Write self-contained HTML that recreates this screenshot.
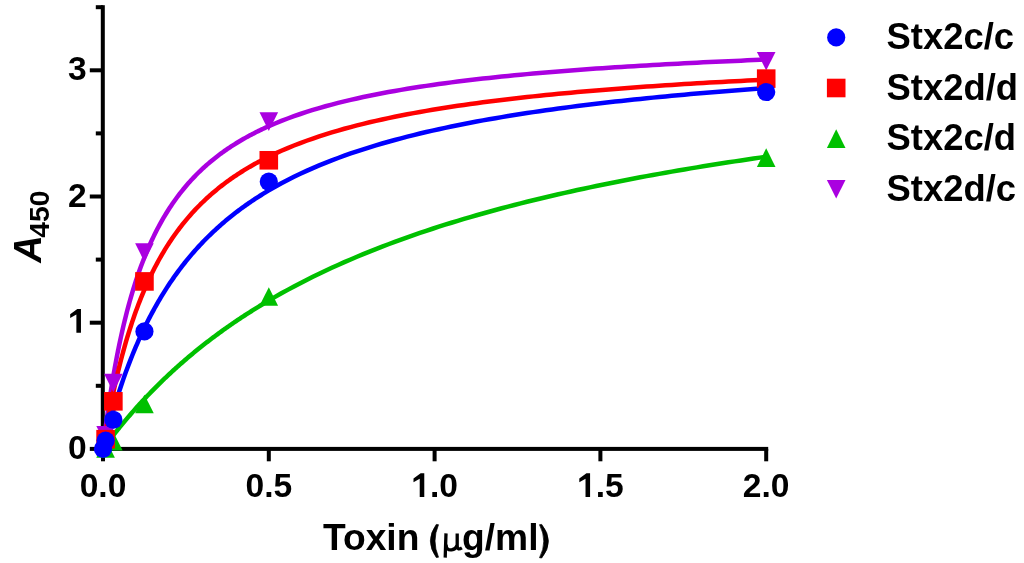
<!DOCTYPE html>
<html><head><meta charset="utf-8"><style>
html,body{margin:0;padding:0;background:#fff;}
svg{display:block;filter:blur(0.45px);}
text{font-family:"Liberation Sans",sans-serif;font-weight:bold;fill:#000;}
</style></head><body>
<svg width="1024" height="563" viewBox="0 0 1024 563">
<rect x="100.8" y="5.2" width="4" height="445.70" fill="#000"/>
<rect x="100.8" y="446.90" width="667.40" height="4" fill="#000"/>
<rect x="101.00" y="448.90" width="4" height="12.40" fill="#000"/>
<rect x="266.80" y="448.90" width="4" height="12.40" fill="#000"/>
<rect x="432.60" y="448.90" width="4" height="12.40" fill="#000"/>
<rect x="598.40" y="448.90" width="4" height="12.40" fill="#000"/>
<rect x="764.20" y="448.90" width="4" height="12.40" fill="#000"/>
<rect x="89.8" y="446.90" width="13.00" height="4" fill="#000"/>
<rect x="89.8" y="320.70" width="13.00" height="4" fill="#000"/>
<rect x="89.8" y="194.50" width="13.00" height="4" fill="#000"/>
<rect x="89.8" y="68.30" width="13.00" height="4" fill="#000"/>
<rect x="95.8" y="383.80" width="7.00" height="4" fill="#000"/>
<rect x="95.8" y="257.60" width="7.00" height="4" fill="#000"/>
<rect x="95.8" y="131.40" width="7.00" height="4" fill="#000"/>
<rect x="95.8" y="5.20" width="7.00" height="4" fill="#000"/>
<text x="86.6" y="458.90" text-anchor="end" font-size="33.6">0</text>
<text x="86.6" y="206.50" text-anchor="end" font-size="33.6">2</text>
<text x="86.6" y="80.30" text-anchor="end" font-size="33.6">3</text>
<path d="M80.96 332.70 L80.96 308.98 L77.33 308.98 L70.17 314.29 L70.17 317.98 L76.39 314.39 L76.39 332.70Z" fill="#000"/>
<text x="103.00" y="497" text-anchor="middle" font-size="33.6">0.0</text>
<text x="268.80" y="497" text-anchor="middle" font-size="33.6">0.5</text>
<text x="766.20" y="497" text-anchor="middle" font-size="33.6">2.0</text>
<path d="M424.28 497.00 L424.28 473.28 L420.66 473.28 L413.50 478.59 L413.50 482.28 L419.72 478.69 L419.72 497.00Z" fill="#000"/>
<text x="429.93" y="497" font-size="33.6">.0</text>
<path d="M590.08 497.00 L590.08 473.28 L586.46 473.28 L579.30 478.59 L579.30 482.28 L585.52 478.69 L585.52 497.00Z" fill="#000"/>
<text x="595.73" y="497" font-size="33.6">.5</text>
<text x="323" y="550.3" font-size="37.2">Toxin</text>
<text x="462.06" y="550.3" font-size="37.2">g/ml</text>
<g fill="#000" stroke="#000" stroke-width="0.7" stroke-linejoin="round"><path d="M436.3 524.4Q424.4 540.9 436.3 557.5L438.5 557.2Q431.5 540.9 438.5 524.7Z"/><path d="M541.7 524.4Q555.2 541.2 541.7 558.0L539.5 557.7Q548.1 541.2 539.5 524.7Z"/></g>
<g fill="none" stroke="#000" stroke-width="3.3"><path d="M446.0 533.4L445.2 557.6"/><path d="M457.2 533.4L457.2 546.5Q457.4 550.6 461.9 547.8"/><path d="M446.0 544.5Q446.4 550.6 451.6 549.9Q455.6 549.4 457.2 545.5"/></g>
<text transform="translate(41.2,262.7) rotate(-90)" font-size="38"><tspan font-style="italic">A</tspan><tspan font-size="28.3" dy="7.3" dx="-2.4">450</tspan></text>
<path d="M103.00 448.90 L103.28 446.52 L103.56 444.16 L103.84 441.83 L104.12 439.53 L104.41 437.25 L104.69 434.99 L104.97 432.77 L105.25 430.56 L105.53 428.38 L105.81 426.23 L106.09 424.09 L106.37 421.98 L106.65 419.90 L106.93 417.83 L107.22 415.79 L107.50 413.77 L107.78 411.77 L108.06 409.79 L108.34 407.83 L108.62 405.89 L108.90 403.97 L109.18 402.07 L109.46 400.19 L109.74 398.32 L110.03 396.48 L110.31 394.66 L110.59 392.85 L110.87 391.06 L111.15 389.29 L111.43 387.54 L111.71 385.80 L111.99 384.08 L112.27 382.38 L112.55 380.69 L112.84 379.02 L113.12 377.36 L113.40 375.72 L113.68 374.10 L113.96 372.49 L114.24 370.90 L114.52 369.32 L114.80 367.75 L115.08 366.20 L115.36 364.67 L115.65 363.15 L115.93 361.64 L116.21 360.14 L116.49 358.66 L116.77 357.20 L117.05 355.74 L117.33 354.30 L117.61 352.87 L117.89 351.46 L118.17 350.05 L118.46 348.66 L118.74 347.28 L119.02 345.91 L119.30 344.56 L119.58 343.21 L120.83 337.35 L122.09 331.71 L123.34 326.27 L124.60 321.02 L125.85 315.95 L127.10 311.06 L128.36 306.34 L129.61 301.77 L130.87 297.35 L132.12 293.07 L133.37 288.93 L134.63 284.91 L135.88 281.02 L137.14 277.25 L138.39 273.59 L139.64 270.03 L140.90 266.58 L142.15 263.23 L143.41 259.97 L144.66 256.80 L145.91 253.72 L147.17 250.72 L148.42 247.80 L149.67 244.95 L150.93 242.18 L152.18 239.48 L153.44 236.85 L154.69 234.29 L155.94 231.78 L157.20 229.34 L158.45 226.96 L159.71 224.63 L160.96 222.36 L162.21 220.14 L163.47 217.97 L164.72 215.85 L165.98 213.78 L167.23 211.75 L168.48 209.77 L169.74 207.83 L170.99 205.94 L172.25 204.08 L173.50 202.26 L174.75 200.48 L176.01 198.74 L177.26 197.03 L178.52 195.35 L179.77 193.71 L181.02 192.11 L182.28 190.53 L183.53 188.98 L184.79 187.47 L186.04 185.98 L187.29 184.52 L188.55 183.09 L189.80 181.68 L191.06 180.30 L192.31 178.94 L193.56 177.61 L194.82 176.31 L196.07 175.02 L197.32 173.76 L198.58 172.52 L199.83 171.30 L201.09 170.10 L202.34 168.93 L203.59 167.77 L204.85 166.63 L206.10 165.51 L207.36 164.41 L208.61 163.33 L209.86 162.26 L211.12 161.21 L212.37 160.18 L213.63 159.16 L214.88 158.16 L216.13 157.18 L217.39 156.21 L218.64 155.25 L219.90 154.31 L221.15 153.38 L222.40 152.47 L223.66 151.57 L224.91 150.69 L226.17 149.81 L227.42 148.95 L228.67 148.10 L229.93 147.27 L231.18 146.44 L232.44 145.63 L233.69 144.83 L234.94 144.04 L236.20 143.26 L237.45 142.49 L238.71 141.73 L239.96 140.99 L241.21 140.25 L242.47 139.52 L243.72 138.80 L244.97 138.09 L246.23 137.39 L247.48 136.70 L248.74 136.02 L249.99 135.35 L251.24 134.68 L252.50 134.03 L253.75 133.38 L255.01 132.74 L256.26 132.11 L257.51 131.48 L258.77 130.86 L260.02 130.26 L261.28 129.65 L262.53 129.06 L263.78 128.47 L265.04 127.89 L266.29 127.32 L267.55 126.75 L268.80 126.19 L275.10 123.48 L281.39 120.91 L287.69 118.48 L293.98 116.18 L300.28 114.00 L306.58 111.92 L312.87 109.95 L319.17 108.07 L325.47 106.28 L331.76 104.57 L338.06 102.93 L344.35 101.37 L350.65 99.87 L356.95 98.44 L363.24 97.06 L369.54 95.74 L375.84 94.47 L382.13 93.25 L388.43 92.07 L394.72 90.94 L401.02 89.85 L407.32 88.79 L413.61 87.78 L419.91 86.80 L426.21 85.85 L432.50 84.94 L438.80 84.05 L445.09 83.19 L451.39 82.36 L457.69 81.56 L463.98 80.78 L470.28 80.02 L476.57 79.29 L482.87 78.58 L489.17 77.89 L495.46 77.22 L501.76 76.56 L508.06 75.93 L514.35 75.31 L520.65 74.71 L526.94 74.13 L533.24 73.56 L539.54 73.00 L545.83 72.46 L552.13 71.94 L558.43 71.42 L564.72 70.92 L571.02 70.43 L577.31 69.96 L583.61 69.49 L589.91 69.04 L596.20 68.59 L602.50 68.16 L608.79 67.73 L615.09 67.32 L621.39 66.91 L627.68 66.52 L633.98 66.13 L640.28 65.75 L646.57 65.38 L652.87 65.02 L659.16 64.66 L665.46 64.31 L671.76 63.97 L678.05 63.63 L684.35 63.31 L690.65 62.99 L696.94 62.67 L703.24 62.36 L709.53 62.06 L715.83 61.76 L722.13 61.47 L728.42 61.18 L734.72 60.90 L741.02 60.63 L747.31 60.35 L753.61 60.09 L759.90 59.83 L766.20 59.57" fill="none" stroke="#AA00E0" stroke-width="4.5" stroke-linejoin="round"/>
<path d="M103.00 448.90 L103.28 448.52 L103.56 448.13 L103.84 447.75 L104.12 447.37 L104.41 446.99 L104.69 446.61 L104.97 446.23 L105.25 445.86 L105.53 445.48 L105.81 445.10 L106.09 444.73 L106.37 444.35 L106.65 443.98 L106.93 443.60 L107.22 443.23 L107.50 442.85 L107.78 442.48 L108.06 442.11 L108.34 441.74 L108.62 441.37 L108.90 441.00 L109.18 440.63 L109.46 440.26 L109.74 439.89 L110.03 439.53 L110.31 439.16 L110.59 438.80 L110.87 438.43 L111.15 438.07 L111.43 437.70 L111.71 437.34 L111.99 436.98 L112.27 436.61 L112.55 436.25 L112.84 435.89 L113.12 435.53 L113.40 435.17 L113.68 434.81 L113.96 434.46 L114.24 434.10 L114.52 433.74 L114.80 433.38 L115.08 433.03 L115.36 432.67 L115.65 432.32 L115.93 431.96 L116.21 431.61 L116.49 431.26 L116.77 430.91 L117.05 430.55 L117.33 430.20 L117.61 429.85 L117.89 429.50 L118.17 429.15 L118.46 428.80 L118.74 428.46 L119.02 428.11 L119.30 427.76 L119.58 427.42 L120.83 425.88 L122.09 424.35 L123.34 422.84 L124.60 421.33 L125.85 419.84 L127.10 418.36 L128.36 416.89 L129.61 415.43 L130.87 413.98 L132.12 412.54 L133.37 411.11 L134.63 409.69 L135.88 408.28 L137.14 406.88 L138.39 405.50 L139.64 404.12 L140.90 402.75 L142.15 401.39 L143.41 400.04 L144.66 398.70 L145.91 397.37 L147.17 396.05 L148.42 394.74 L149.67 393.43 L150.93 392.14 L152.18 390.85 L153.44 389.58 L154.69 388.31 L155.94 387.05 L157.20 385.80 L158.45 384.56 L159.71 383.32 L160.96 382.10 L162.21 380.88 L163.47 379.67 L164.72 378.47 L165.98 377.27 L167.23 376.09 L168.48 374.91 L169.74 373.74 L170.99 372.58 L172.25 371.42 L173.50 370.28 L174.75 369.14 L176.01 368.00 L177.26 366.88 L178.52 365.76 L179.77 364.65 L181.02 363.55 L182.28 362.45 L183.53 361.36 L184.79 360.28 L186.04 359.20 L187.29 358.13 L188.55 357.07 L189.80 356.01 L191.06 354.96 L192.31 353.92 L193.56 352.88 L194.82 351.85 L196.07 350.83 L197.32 349.81 L198.58 348.80 L199.83 347.79 L201.09 346.79 L202.34 345.80 L203.59 344.81 L204.85 343.83 L206.10 342.85 L207.36 341.88 L208.61 340.92 L209.86 339.96 L211.12 339.01 L212.37 338.06 L213.63 337.12 L214.88 336.18 L216.13 335.25 L217.39 334.33 L218.64 333.41 L219.90 332.49 L221.15 331.58 L222.40 330.68 L223.66 329.78 L224.91 328.88 L226.17 328.00 L227.42 327.11 L228.67 326.23 L229.93 325.36 L231.18 324.49 L232.44 323.63 L233.69 322.77 L234.94 321.91 L236.20 321.07 L237.45 320.22 L238.71 319.38 L239.96 318.55 L241.21 317.71 L242.47 316.89 L243.72 316.07 L244.97 315.25 L246.23 314.44 L247.48 313.63 L248.74 312.83 L249.99 312.03 L251.24 311.23 L252.50 310.44 L253.75 309.65 L255.01 308.87 L256.26 308.09 L257.51 307.32 L258.77 306.55 L260.02 305.78 L261.28 305.02 L262.53 304.26 L263.78 303.51 L265.04 302.76 L266.29 302.01 L267.55 301.27 L268.80 300.53 L275.10 296.88 L281.39 293.33 L287.69 289.86 L293.98 286.48 L300.28 283.18 L306.58 279.96 L312.87 276.82 L319.17 273.75 L325.47 270.75 L331.76 267.83 L338.06 264.97 L344.35 262.17 L350.65 259.44 L356.95 256.77 L363.24 254.15 L369.54 251.60 L375.84 249.09 L382.13 246.64 L388.43 244.24 L394.72 241.90 L401.02 239.59 L407.32 237.34 L413.61 235.13 L419.91 232.97 L426.21 230.84 L432.50 228.76 L438.80 226.72 L445.09 224.72 L451.39 222.75 L457.69 220.83 L463.98 218.94 L470.28 217.08 L476.57 215.26 L482.87 213.47 L489.17 211.71 L495.46 209.98 L501.76 208.29 L508.06 206.62 L514.35 204.98 L520.65 203.37 L526.94 201.79 L533.24 200.24 L539.54 198.71 L545.83 197.20 L552.13 195.72 L558.43 194.27 L564.72 192.84 L571.02 191.43 L577.31 190.04 L583.61 188.68 L589.91 187.33 L596.20 186.01 L602.50 184.71 L608.79 183.43 L615.09 182.17 L621.39 180.92 L627.68 179.70 L633.98 178.49 L640.28 177.30 L646.57 176.13 L652.87 174.98 L659.16 173.84 L665.46 172.72 L671.76 171.61 L678.05 170.52 L684.35 169.45 L690.65 168.39 L696.94 167.35 L703.24 166.32 L709.53 165.30 L715.83 164.30 L722.13 163.31 L728.42 162.33 L734.72 161.37 L741.02 160.42 L747.31 159.48 L753.61 158.55 L759.90 157.64 L766.20 156.74" fill="none" stroke="#00C000" stroke-width="4.5" stroke-linejoin="round"/>
<path d="M103.00 448.90 L103.28 447.13 L103.56 445.37 L103.84 443.63 L104.12 441.90 L104.41 440.19 L104.69 438.49 L104.97 436.81 L105.25 435.14 L105.53 433.48 L105.81 431.84 L106.09 430.21 L106.37 428.60 L106.65 427.00 L106.93 425.41 L107.22 423.84 L107.50 422.28 L107.78 420.73 L108.06 419.19 L108.34 417.67 L108.62 416.16 L108.90 414.66 L109.18 413.18 L109.46 411.70 L109.74 410.24 L110.03 408.79 L110.31 407.35 L110.59 405.92 L110.87 404.50 L111.15 403.10 L111.43 401.70 L111.71 400.32 L111.99 398.94 L112.27 397.58 L112.55 396.23 L112.84 394.88 L113.12 393.55 L113.40 392.23 L113.68 390.92 L113.96 389.61 L114.24 388.32 L114.52 387.04 L114.80 385.76 L115.08 384.50 L115.36 383.25 L115.65 382.00 L115.93 380.76 L116.21 379.54 L116.49 378.32 L116.77 377.11 L117.05 375.91 L117.33 374.71 L117.61 373.53 L117.89 372.36 L118.17 371.19 L118.46 370.03 L118.74 368.88 L119.02 367.74 L119.30 366.60 L119.58 365.48 L120.83 360.54 L122.09 355.76 L123.34 351.12 L124.60 346.61 L125.85 342.24 L127.10 337.99 L128.36 333.86 L129.61 329.84 L130.87 325.94 L132.12 322.14 L133.37 318.44 L134.63 314.83 L135.88 311.32 L137.14 307.91 L138.39 304.57 L139.64 301.32 L140.90 298.15 L142.15 295.06 L143.41 292.04 L144.66 289.10 L145.91 286.22 L147.17 283.41 L148.42 280.66 L149.67 277.98 L150.93 275.35 L152.18 272.79 L153.44 270.28 L154.69 267.82 L155.94 265.42 L157.20 263.07 L158.45 260.77 L159.71 258.52 L160.96 256.31 L162.21 254.15 L163.47 252.03 L164.72 249.95 L165.98 247.92 L167.23 245.92 L168.48 243.96 L169.74 242.04 L170.99 240.16 L172.25 238.31 L173.50 236.50 L174.75 234.72 L176.01 232.98 L177.26 231.26 L178.52 229.58 L179.77 227.92 L181.02 226.30 L182.28 224.70 L183.53 223.13 L184.79 221.59 L186.04 220.08 L187.29 218.59 L188.55 217.12 L189.80 215.68 L191.06 214.26 L192.31 212.87 L193.56 211.50 L194.82 210.15 L196.07 208.82 L197.32 207.52 L198.58 206.23 L199.83 204.97 L201.09 203.72 L202.34 202.49 L203.59 201.29 L204.85 200.10 L206.10 198.92 L207.36 197.77 L208.61 196.63 L209.86 195.51 L211.12 194.41 L212.37 193.32 L213.63 192.25 L214.88 191.19 L216.13 190.15 L217.39 189.12 L218.64 188.11 L219.90 187.11 L221.15 186.12 L222.40 185.15 L223.66 184.19 L224.91 183.24 L226.17 182.31 L227.42 181.39 L228.67 180.48 L229.93 179.59 L231.18 178.70 L232.44 177.83 L233.69 176.96 L234.94 176.11 L236.20 175.27 L237.45 174.44 L238.71 173.62 L239.96 172.81 L241.21 172.02 L242.47 171.23 L243.72 170.45 L244.97 169.68 L246.23 168.92 L247.48 168.16 L248.74 167.42 L249.99 166.69 L251.24 165.96 L252.50 165.25 L253.75 164.54 L255.01 163.84 L256.26 163.15 L257.51 162.46 L258.77 161.79 L260.02 161.12 L261.28 160.46 L262.53 159.80 L263.78 159.16 L265.04 158.52 L266.29 157.89 L267.55 157.26 L268.80 156.64 L275.10 153.64 L281.39 150.79 L287.69 148.09 L293.98 145.52 L300.28 143.07 L306.58 140.74 L312.87 138.52 L319.17 136.39 L325.47 134.36 L331.76 132.42 L338.06 130.56 L344.35 128.77 L350.65 127.06 L356.95 125.41 L363.24 123.83 L369.54 122.31 L375.84 120.85 L382.13 119.44 L388.43 118.08 L394.72 116.77 L401.02 115.50 L407.32 114.28 L413.61 113.10 L419.91 111.96 L426.21 110.85 L432.50 109.78 L438.80 108.75 L445.09 107.75 L451.39 106.77 L457.69 105.83 L463.98 104.91 L470.28 104.02 L476.57 103.16 L482.87 102.32 L489.17 101.51 L495.46 100.71 L501.76 99.94 L508.06 99.19 L514.35 98.46 L520.65 97.75 L526.94 97.06 L533.24 96.38 L539.54 95.72 L545.83 95.08 L552.13 94.45 L558.43 93.84 L564.72 93.25 L571.02 92.66 L577.31 92.09 L583.61 91.54 L589.91 91.00 L596.20 90.46 L602.50 89.95 L608.79 89.44 L615.09 88.94 L621.39 88.46 L627.68 87.98 L633.98 87.52 L640.28 87.06 L646.57 86.61 L652.87 86.18 L659.16 85.75 L665.46 85.33 L671.76 84.92 L678.05 84.52 L684.35 84.12 L690.65 83.73 L696.94 83.35 L703.24 82.98 L709.53 82.62 L715.83 82.26 L722.13 81.91 L728.42 81.56 L734.72 81.22 L741.02 80.89 L747.31 80.56 L753.61 80.24 L759.90 79.92 L766.20 79.61" fill="none" stroke="#FF0000" stroke-width="4.5" stroke-linejoin="round"/>
<path d="M103.00 448.90 L103.28 447.74 L103.56 446.60 L103.84 445.45 L104.12 444.32 L104.41 443.19 L104.69 442.06 L104.97 440.95 L105.25 439.83 L105.53 438.73 L105.81 437.63 L106.09 436.54 L106.37 435.45 L106.65 434.37 L106.93 433.29 L107.22 432.22 L107.50 431.16 L107.78 430.10 L108.06 429.04 L108.34 428.00 L108.62 426.96 L108.90 425.92 L109.18 424.89 L109.46 423.86 L109.74 422.84 L110.03 421.83 L110.31 420.82 L110.59 419.81 L110.87 418.81 L111.15 417.82 L111.43 416.83 L111.71 415.85 L111.99 414.87 L112.27 413.89 L112.55 412.92 L112.84 411.96 L113.12 411.00 L113.40 410.05 L113.68 409.10 L113.96 408.15 L114.24 407.21 L114.52 406.28 L114.80 405.35 L115.08 404.42 L115.36 403.50 L115.65 402.58 L115.93 401.67 L116.21 400.76 L116.49 399.86 L116.77 398.96 L117.05 398.06 L117.33 397.17 L117.61 396.29 L117.89 395.41 L118.17 394.53 L118.46 393.66 L118.74 392.79 L119.02 391.92 L119.30 391.06 L119.58 390.21 L120.83 386.43 L122.09 382.74 L123.34 379.12 L124.60 375.58 L125.85 372.11 L127.10 368.71 L128.36 365.37 L129.61 362.11 L130.87 358.90 L132.12 355.76 L133.37 352.68 L134.63 349.65 L135.88 346.69 L137.14 343.77 L138.39 340.92 L139.64 338.11 L140.90 335.35 L142.15 332.65 L143.41 329.99 L144.66 327.38 L145.91 324.81 L147.17 322.29 L148.42 319.81 L149.67 317.37 L150.93 314.98 L152.18 312.62 L153.44 310.31 L154.69 308.03 L155.94 305.79 L157.20 303.58 L158.45 301.42 L159.71 299.28 L160.96 297.18 L162.21 295.11 L163.47 293.08 L164.72 291.07 L165.98 289.10 L167.23 287.15 L168.48 285.24 L169.74 283.35 L170.99 281.50 L172.25 279.66 L173.50 277.86 L174.75 276.08 L176.01 274.33 L177.26 272.60 L178.52 270.90 L179.77 269.22 L181.02 267.57 L182.28 265.94 L183.53 264.33 L184.79 262.74 L186.04 261.18 L187.29 259.63 L188.55 258.11 L189.80 256.61 L191.06 255.12 L192.31 253.66 L193.56 252.22 L194.82 250.79 L196.07 249.38 L197.32 247.99 L198.58 246.62 L199.83 245.27 L201.09 243.93 L202.34 242.61 L203.59 241.31 L204.85 240.02 L206.10 238.75 L207.36 237.49 L208.61 236.25 L209.86 235.03 L211.12 233.82 L212.37 232.62 L213.63 231.44 L214.88 230.27 L216.13 229.11 L217.39 227.97 L218.64 226.84 L219.90 225.73 L221.15 224.63 L222.40 223.54 L223.66 222.46 L224.91 221.39 L226.17 220.34 L227.42 219.30 L228.67 218.27 L229.93 217.25 L231.18 216.24 L232.44 215.25 L233.69 214.26 L234.94 213.28 L236.20 212.32 L237.45 211.36 L238.71 210.42 L239.96 209.49 L241.21 208.56 L242.47 207.65 L243.72 206.74 L244.97 205.84 L246.23 204.96 L247.48 204.08 L248.74 203.21 L249.99 202.35 L251.24 201.50 L252.50 200.66 L253.75 199.82 L255.01 198.99 L256.26 198.18 L257.51 197.37 L258.77 196.56 L260.02 195.77 L261.28 194.98 L262.53 194.20 L263.78 193.43 L265.04 192.67 L266.29 191.91 L267.55 191.16 L268.80 190.42 L275.10 186.79 L281.39 183.33 L287.69 180.02 L293.98 176.85 L300.28 173.82 L306.58 170.91 L312.87 168.12 L319.17 165.44 L325.47 162.86 L331.76 160.39 L338.06 158.00 L344.35 155.71 L350.65 153.49 L356.95 151.36 L363.24 149.30 L369.54 147.31 L375.84 145.39 L382.13 143.53 L388.43 141.73 L394.72 139.99 L401.02 138.30 L407.32 136.67 L413.61 135.09 L419.91 133.55 L426.21 132.06 L432.50 130.61 L438.80 129.21 L445.09 127.84 L451.39 126.52 L457.69 125.23 L463.98 123.97 L470.28 122.75 L476.57 121.56 L482.87 120.41 L489.17 119.28 L495.46 118.18 L501.76 117.11 L508.06 116.06 L514.35 115.05 L520.65 114.05 L526.94 113.08 L533.24 112.14 L539.54 111.21 L545.83 110.31 L552.13 109.42 L558.43 108.56 L564.72 107.72 L571.02 106.89 L577.31 106.09 L583.61 105.30 L589.91 104.52 L596.20 103.77 L602.50 103.03 L608.79 102.30 L615.09 101.59 L621.39 100.90 L627.68 100.22 L633.98 99.55 L640.28 98.89 L646.57 98.25 L652.87 97.62 L659.16 97.01 L665.46 96.40 L671.76 95.81 L678.05 95.22 L684.35 94.65 L690.65 94.09 L696.94 93.54 L703.24 92.99 L709.53 92.46 L715.83 91.94 L722.13 91.43 L728.42 90.92 L734.72 90.43 L741.02 89.94 L747.31 89.46 L753.61 88.99 L759.90 88.52 L766.20 88.07" fill="none" stroke="#0000FF" stroke-width="4.5" stroke-linejoin="round"/>
<path d="M96.29 425.97L114.89 425.97L105.59 444.57Z" fill="#AA00E0"/>
<path d="M104.06 373.72L122.66 373.72L113.36 392.32Z" fill="#AA00E0"/>
<path d="M135.15 243.36L153.75 243.36L144.45 261.96Z" fill="#AA00E0"/>
<path d="M259.50 112.36L278.10 112.36L268.80 130.96Z" fill="#AA00E0"/>
<path d="M756.90 51.91L775.50 51.91L766.20 70.51Z" fill="#AA00E0"/>
<path d="M105.59 439.22L114.89 457.82L96.29 457.82Z" fill="#00C000"/>
<path d="M113.36 431.90L122.66 450.50L104.06 450.50Z" fill="#00C000"/>
<path d="M144.45 394.67L153.75 413.27L135.15 413.27Z" fill="#00C000"/>
<path d="M268.80 287.15L278.10 305.75L259.50 305.75Z" fill="#00C000"/>
<path d="M766.20 148.33L775.50 166.93L756.90 166.93Z" fill="#00C000"/>
<rect x="96.29" y="429.88" width="18.60" height="18.60" fill="#FF0000"/>
<rect x="104.06" y="392.02" width="18.60" height="18.60" fill="#FF0000"/>
<rect x="135.15" y="272.13" width="18.60" height="18.60" fill="#FF0000"/>
<rect x="259.50" y="150.98" width="18.60" height="18.60" fill="#FF0000"/>
<rect x="756.90" y="69.33" width="18.60" height="18.60" fill="#FF0000"/>
<circle cx="103.00" cy="448.90" r="9.11" fill="#0000FF"/>
<circle cx="105.59" cy="440.57" r="9.11" fill="#0000FF"/>
<circle cx="113.36" cy="419.75" r="9.11" fill="#0000FF"/>
<circle cx="144.45" cy="331.41" r="9.11" fill="#0000FF"/>
<circle cx="268.80" cy="181.73" r="9.11" fill="#0000FF"/>
<circle cx="766.20" cy="92.01" r="9.11" fill="#0000FF"/>
<circle cx="836.20" cy="37.40" r="9.11" fill="#0000FF"/>
<text x="886.6" y="49.20" font-size="36.4">Stx2c/c</text>
<rect x="826.90" y="78.70" width="18.60" height="18.60" fill="#FF0000"/>
<text x="886.6" y="99.80" font-size="36.4">Stx2d/d</text>
<path d="M836.20 129.30L845.50 147.90L826.90 147.90Z" fill="#00C000"/>
<text x="886.6" y="150.40" font-size="36.4">Stx2c/d</text>
<path d="M826.90 179.90L845.50 179.90L836.20 198.50Z" fill="#AA00E0"/>
<text x="886.6" y="201.00" font-size="36.4">Stx2d/c</text>
</svg>
</body></html>
